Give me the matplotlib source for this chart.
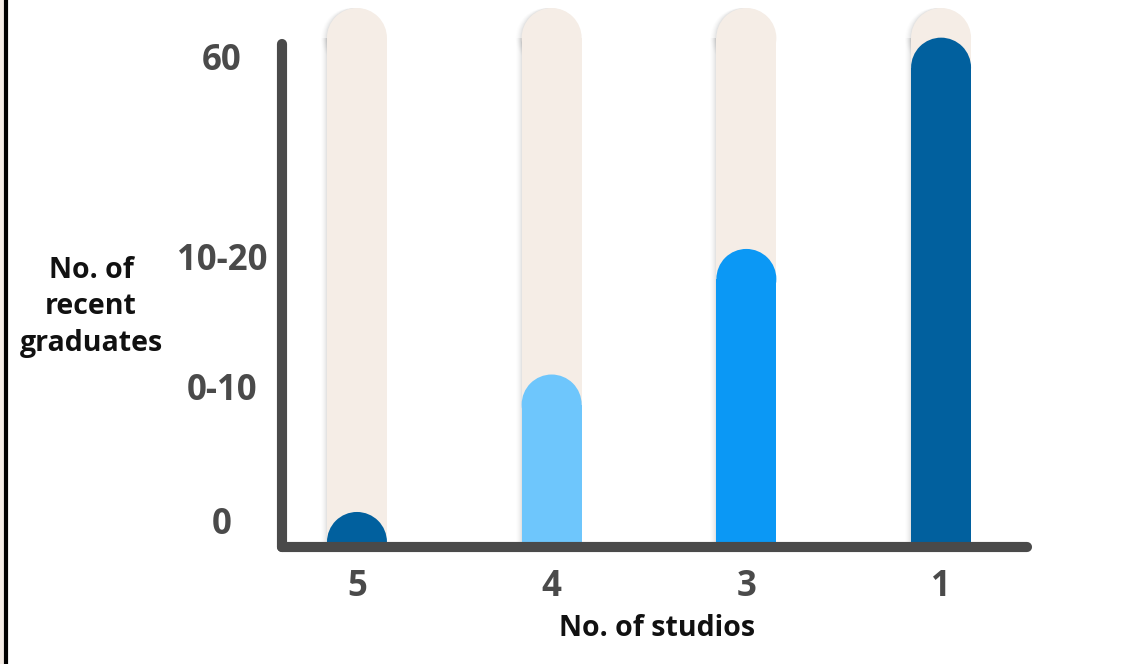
import matplotlib.pyplot as plt
from matplotlib.patches import Rectangle, Ellipse

# -----------------------------
# Data
# -----------------------------
studios = ["5", "4", "3", "1"]
bar_heights = [6.5, 32.0, 55.3, 94.5]          # share of the full track (0-100)
bar_colors = ["#01609e", "#6ec6fc", "#0b98f5", "#01609e"]
track_height = 100

ytick_pos = [4.6, 29.5, 53.6, 90.7]
ytick_labels = ["0", "0-10", "10-20", "60"]

track_color = "#f5ede6"
axis_color = "#4a4a4a"
font = ["Open Sans", "DejaVu Sans"]

# -----------------------------
# Figure / axes
# -----------------------------
W, H = 1129, 664
fig = plt.figure(figsize=(W / 100, H / 100), dpi=100)
ax = fig.add_axes([282 / W, (H - 547) / H, 750 / W, 539 / H])
ax.set_xlim(-0.385, 3.467)
ax.set_ylim(0, 100)
ax.axis("off")

bar_w = 0.308
# height of the round cap in y units, so it stays a real half circle
px_x = ax.transData.transform((1, 0))[0] - ax.transData.transform((0, 0))[0]
px_y = ax.transData.transform((0, 1))[1] - ax.transData.transform((0, 0))[1]
cap_h = bar_w * px_x / px_y


def pill(x, h, color, z, dx=0.0, alpha=1.0):
    ax.add_patch(Rectangle((x + dx - bar_w / 2, 0), bar_w, h - cap_h / 2,
                           facecolor=color, edgecolor="none", alpha=alpha, zorder=z))
    ax.add_patch(Ellipse((x + dx, h - cap_h / 2), bar_w, cap_h,
                         facecolor=color, edgecolor="none", alpha=alpha, zorder=z))


for i in range(len(studios)):
    # soft shadow on the left of the track
    for k, a in enumerate([0.03, 0.025, 0.02, 0.016, 0.012, 0.008]):
        pill(i, track_height, "black", 1, dx=-(k + 1) * 1.0 / px_x, alpha=a)
    pill(i, track_height, track_color, 2)
    pill(i, bar_heights[i], bar_colors[i], 3)

# axis lines with round caps
ax.plot([-0.385, -0.385], [0, 93.3], color=axis_color, lw=7.3,
        solid_capstyle="round", clip_on=False, zorder=5)
ax.plot([-0.385, 3.44], [0, 0], color=axis_color, lw=7.3,
        solid_capstyle="round", clip_on=False, zorder=5)

# tick labels
for y, lab in zip(ytick_pos, ytick_labels):
    fig.text(222 / W, (ax.transData.transform((0, y))[1] - 3) / H, lab, ha="center",
             va="center", fontsize=25, fontweight="bold", color=axis_color, family=font)
for i, lab in enumerate(studios):
    ax.text(i, -7.4, lab, ha="center", va="center", fontsize=25,
            fontweight="bold", color=axis_color, family=font, clip_on=False)

fig.text(91 / W, 1 - 307 / H, "No. of\nrecent\ngraduates", ha="center", va="center",
         fontsize=20.5, fontweight="bold", color="#111111", family=font,
         linespacing=1.32)
fig.text(657 / W, 1 - 628 / H, "No. of studios", ha="center", va="center",
         fontsize=20.5, fontweight="bold", color="#111111", family=font)

# frame line at the left edge
fig.add_artist(Rectangle((0, 0), 4 / W, 1, facecolor=track_color, edgecolor="none",
                         transform=fig.transFigure))
fig.add_artist(plt.Line2D([6 / W, 6 / W], [0, 1], color="black", lw=3.0,
                          transform=fig.transFigure))

fig.savefig("out.png", dpi=100)
